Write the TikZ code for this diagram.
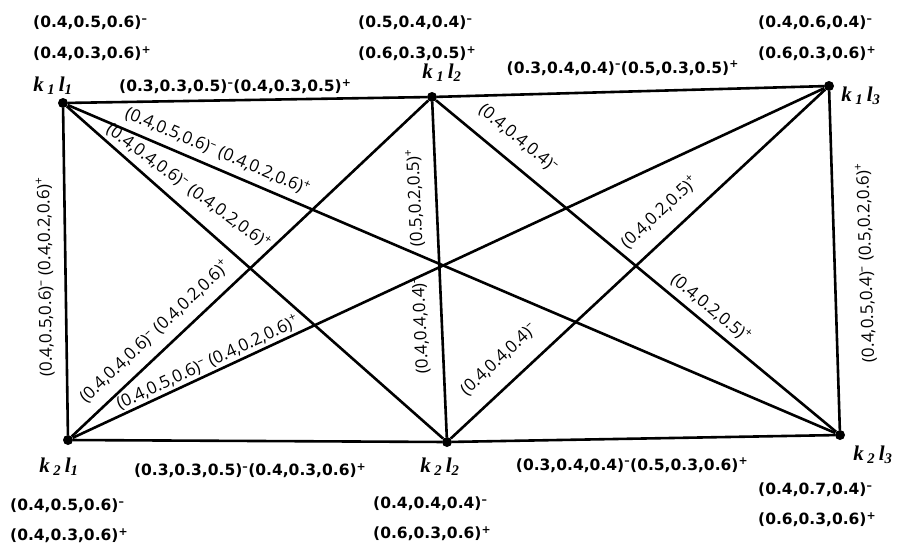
\documentclass[tikz,border=0pt]{standalone}
\usepackage{fontspec}
\setmainfont{Open Sans}
\newfontfamily\vfont{DejaVu Sans}
\newfontfamily\nfont{Liberation Serif}
\newcommand{\xm}{\textsuperscript{–}}
\newcommand{\xp}{\textsuperscript{+}}
\newcommand{\kl}[2]{k\,\textsubscript{#1}\,l\textsubscript{#2}}
\tikzset{
  vtx/.style={circle, fill=black, inner sep=0pt, minimum size=10pt},
  conn/.style={line width=2.6pt},
  elab/.style={font=\fontsize{17}{17}\selectfont, inner sep=0pt, sloped},
  hlab/.style={font=\vfont\bfseries\fontsize{15.5}{15.5}\selectfont, inner sep=0pt},
  vlab/.style={font=\vfont\bfseries\fontsize{15.5}{15.5}\selectfont, inner sep=0pt, anchor=west},
  nlab/.style={font=\nfont\bfseries\itshape\fontsize{21}{21}\selectfont, inner sep=0pt}
}
\begin{document}
\begin{tikzpicture}[x=1pt, y=-1pt]
\useasboundingbox (0,0) rectangle (898,549);
% vertices
\node[vtx] (k11) at (63,103) {};
\node[vtx] (k12) at (432,97) {};
\node[vtx] (k13) at (829,86) {};
\node[vtx] (k21) at (68,440) {};
\node[vtx] (k22) at (447,442) {};
\node[vtx] (k23) at (840,435) {};
% vertex names
\node[nlab] (n11) at (53,86) {\kl{1}{1}};
\node[nlab] (n12) at (442,73) {\kl{1}{2}};
\node[nlab] (n13) at (861,96) {\kl{1}{3}};
\node[nlab] (n21) at (59,467) {\kl{2}{1}};
\node[nlab] (n22) at (440,467) {\kl{2}{2}};
\node[nlab] (n23) at (873,455) {\kl{2}{3}};
% vertex values
\node[vlab] (v11a) at (33,23) {(0.4,0.5,0.6)\xm};
\node[vlab] (v11b) at (33,54) {(0.4,0.3,0.6)\xp};
\node[vlab] (v12a) at (358,23) {(0.5,0.4,0.4)\xm};
\node[vlab] (v12b) at (358,54) {(0.6,0.3,0.5)\xp};
\node[vlab] (v13a) at (758,23) {(0.4,0.6,0.4)\xm};
\node[vlab] (v13b) at (758,54) {(0.6,0.3,0.6)\xp};
\node[vlab] (v21a) at (10,506) {(0.4,0.5,0.6)\xm};
\node[vlab] (v21b) at (10,536) {(0.4,0.3,0.6)\xp};
\node[vlab] (v22a) at (373,504) {(0.4,0.4,0.4)\xm};
\node[vlab] (v22b) at (373,534) {(0.6,0.3,0.6)\xp};
\node[vlab] (v23a) at (758,490) {(0.4,0.7,0.4)\xm};
\node[vlab] (v23b) at (758,520) {(0.6,0.3,0.6)\xp};
% outer edges
\draw[conn] (k11) -- node[hlab, pos=0.466, above=5pt] {(0.3,0.3,0.5)\xm(0.4,0.3,0.5)\xp} (k12);
\draw[conn] (k12) -- node[hlab, pos=0.48, above=15pt] {(0.3,0.4,0.4)\xm(0.5,0.3,0.5)\xp} (k13);
\draw[conn] (k21) -- node[hlab, pos=0.48, below=21pt] {(0.3,0.3,0.5)\xm(0.4,0.3,0.6)\xp} (k22);
\draw[conn] (k22) -- node[hlab, pos=0.47, below=18pt] {(0.3,0.4,0.4)\xm(0.5,0.3,0.6)\xp} (k23);
\draw[conn] (k21) -- node[elab, allow upside down, pos=0.484, above=11pt] {(0.4,0.5,0.6)\xm\ (0.4,0.2,0.6)\xp} (k11);
\draw[conn] (k23) -- node[elab, allow upside down, pos=0.49, below=22pt] {(0.4,0.5,0.4)\xm\ (0.5,0.2,0.6)\xp} (k13);
\draw[conn] (k22) -- node[elab, allow upside down, pos=0.336, above=12pt] {(0.4,0.4,0.4)\xm}
                    node[elab, allow upside down, pos=0.716, above=12pt] {(0.5,0.2,0.5)\xp} (k12);
% diagonals
\draw[conn] (k11) -- node[elab, pos=0.187, above=7pt] {(0.4,0.5,0.6)\xm\ (0.4,0.2,0.6)\xp} (k23);
\draw[conn] (k11) -- node[elab, pos=0.289, above=11pt, rotate=5] {(0.4,0.4,0.6)\xm\ (0.4,0.2,0.6)\xp} (k22);
\draw[conn] (k21) -- node[elab, pos=0.27, above=10pt] {(0.4,0.4,0.6)\xm\ (0.4,0.2,0.6)\xp} (k12);
\draw[conn] (k21) -- node[elab, pos=0.186, above=2pt] {(0.4,0.5,0.6)\xm\ (0.4,0.2,0.6)\xp} (k13);
\draw[conn] (k12) -- node[elab, pos=0.169, above=14pt] {(0.4,0.4,0.4)\xm}
                    node[elab, pos=0.663, above=6pt] {(0.4,0.2,0.5)\xp} (k23);
\draw[conn] (k22) -- node[elab, pos=0.174, above=16pt] {(0.4,0.4,0.4)\xm}
                    node[elab, pos=0.60, above=14pt] {(0.4,0.2,0.5)\xp} (k13);
\end{tikzpicture}
\end{document}
